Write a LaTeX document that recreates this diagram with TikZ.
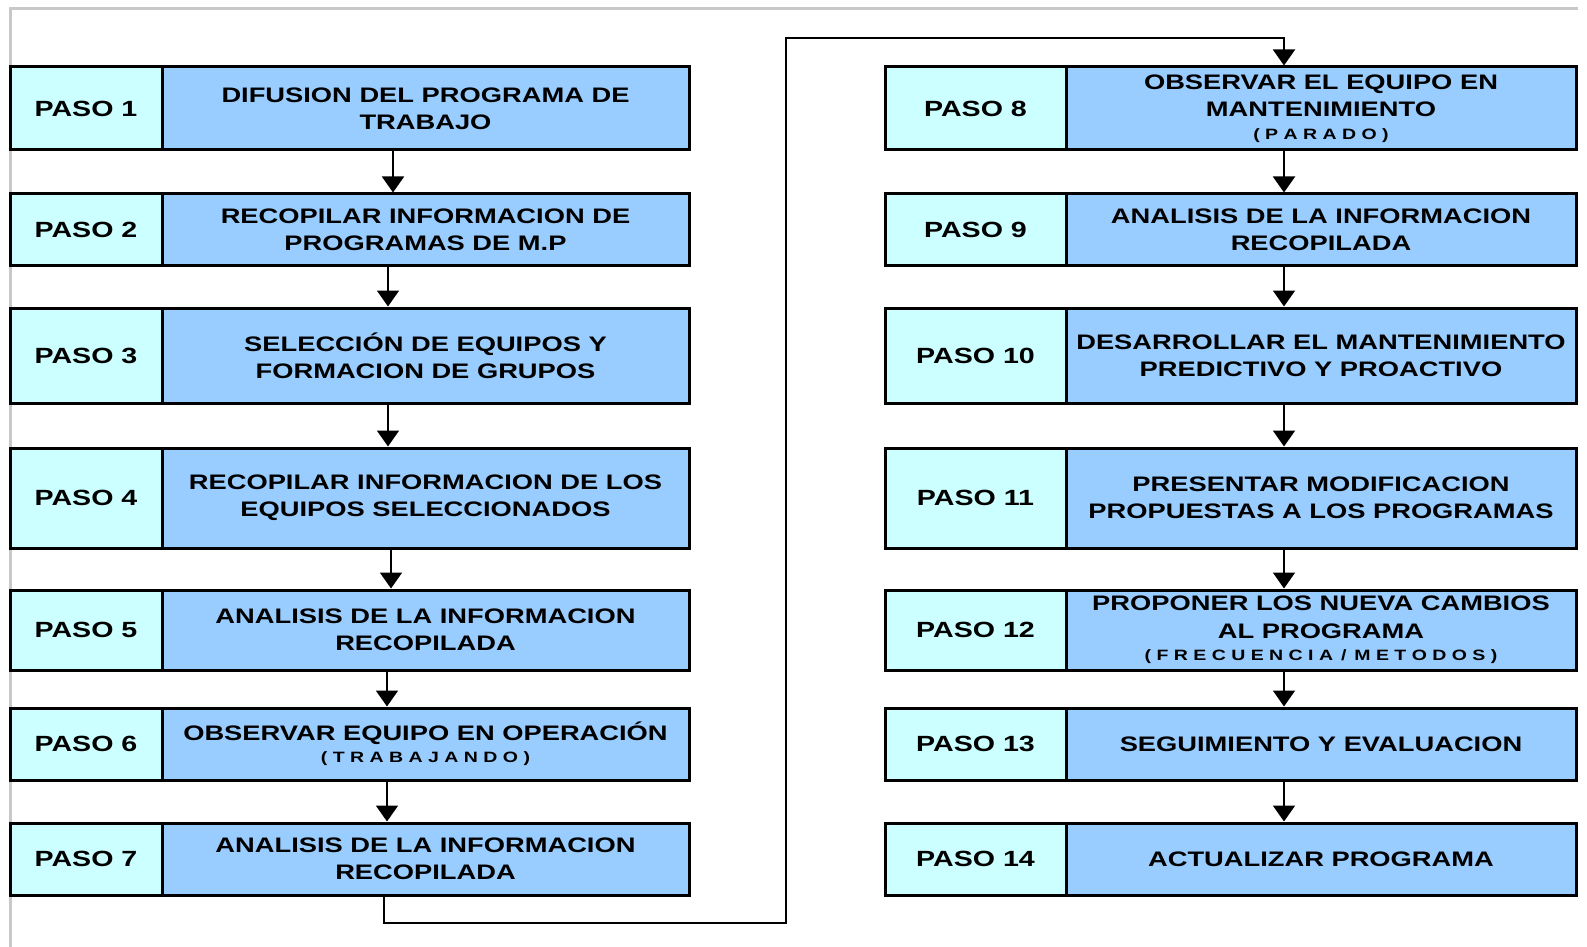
\documentclass[tikz,border=0pt]{standalone}
\usepackage{fontspec}
\usetikzlibrary{arrows.meta}
\newfontfamily\boxfont{Liberation Sans}[FakeStretch=1.3]
\definecolor{pasocol}{HTML}{CCFFFF}
\definecolor{desccol}{HTML}{99CCFF}
\definecolor{framecol}{HTML}{C8C8C8}
\newcommand{\sub}[1]{\fontsize{7.5}{9}\selectfont #1}
\begin{document}
\begin{tikzpicture}[x=0.5pt,y=-0.5pt,
  box/.style={draw=black, line width=1.5pt, rectangle, inner sep=0pt, align=center,
    font=\boxfont\bfseries\fontsize{10.5}{13.65}\selectfont},
  pasoL/.style={box, fill=pasocol, minimum width=76pt, font=\boxfont\bfseries\fontsize{11}{13.65}\selectfont},
  descL/.style={box, fill=desccol, minimum width=263.5pt},
  pasoR/.style={box, fill=pasocol, minimum width=90.5pt, font=\boxfont\bfseries\fontsize{11}{13.65}\selectfont},
  descR/.style={box, fill=desccol, minimum width=255pt},
  arr/.style={draw=black, line width=1pt, -{Triangle[width=11pt,length=8pt]}},
  frameline/.style={draw=framecol, line width=1.5pt}
]
\useasboundingbox (0,0) rectangle (1587,947);
\draw[frameline] (10,947) -- (10,9) -- (1578,9);

% left column
\node[pasoL, minimum height=41.5pt] (p1) at (86,108.5) {PASO 1};
\node[descL, minimum height=41.5pt] (d1) at (425.5,108.5) {DIFUSION DEL PROGRAMA DE\\TRABAJO};
\node[pasoL, minimum height=36pt] (p2) at (86,230) {PASO 2};
\node[descL, minimum height=36pt] (d2) at (425.5,230) {RECOPILAR INFORMACION DE\\PROGRAMAS DE M.P};
\node[pasoL, minimum height=47.5pt] (p3) at (86,355.5) {PASO 3};
\node[descL, minimum height=47.5pt] (d3) at (425.5,355.5) {SELECCIÓN DE EQUIPOS Y\\FORMACION DE GRUPOS};
\node[pasoL, minimum height=50pt] (p4) at (86,498) {PASO 4};
\node[descL, minimum height=50pt] (d4) at (425.5,498) {RECOPILAR INFORMACION DE LOS\\EQUIPOS SELECCIONADOS};
\node[pasoL, minimum height=40pt] (p5) at (86,630) {PASO 5};
\node[descL, minimum height=40pt] (d5) at (425.5,630) {ANALISIS DE LA INFORMACION\\RECOPILADA};
\node[pasoL, minimum height=36pt] (p6) at (86,744) {PASO 6};
\node[descL, minimum height=36pt] (d6) at (425.5,744) {OBSERVAR EQUIPO EN OPERACIÓN\\[-2.45pt]\sub{( T R A B A J A N D O )}};
\node[pasoL, minimum height=36pt] (p7) at (86,859) {PASO 7};
\node[descL, minimum height=36pt] (d7) at (425.5,859) {ANALISIS DE LA INFORMACION\\RECOPILADA};

% right column
\node[pasoR, minimum height=41.5pt] (p8) at (975.5,108.5) {PASO 8};
\node[descR, minimum height=41.5pt] (d8) at (1321,108.5) {OBSERVAR EL EQUIPO EN\\MANTENIMIENTO\\[-2.45pt]\sub{( P A R A D O )}};
\node[pasoR, minimum height=36pt] (p9) at (975.5,230) {PASO 9};
\node[descR, minimum height=36pt] (d9) at (1321,230) {ANALISIS DE LA INFORMACION\\RECOPILADA};
\node[pasoR, minimum height=47.5pt] (p10) at (975.5,355.5) {PASO 10};
\node[descR, minimum height=47.5pt] (d10) at (1321,355.5) {DESARROLLAR EL MANTENIMIENTO\\PREDICTIVO Y PROACTIVO};
\node[pasoR, minimum height=50pt] (p11) at (975.5,498) {PASO 11};
\node[descR, minimum height=50pt] (d11) at (1321,498) {PRESENTAR MODIFICACION\\PROPUESTAS A LOS PROGRAMAS};
\node[pasoR, minimum height=40pt] (p12) at (975.5,630) {PASO 12};
\node[descR, minimum height=40pt] (d12) at (1321,630) {PROPONER LOS NUEVA CAMBIOS\\AL PROGRAMA\\[-2.45pt]\sub{( F R E C U E N C I A \,/\, M E T O D O S )}};
\node[pasoR, minimum height=36pt] (p13) at (975.5,744) {PASO 13};
\node[descR, minimum height=36pt] (d13) at (1321,744) {SEGUIMIENTO Y EVALUACION};
\node[pasoR, minimum height=36pt] (p14) at (975.5,859) {PASO 14};
\node[descR, minimum height=36pt] (d14) at (1321,859) {ACTUALIZAR PROGRAMA};

% arrows left
\draw[arr] ([shift={(-32.5,0)}]d1.south) -- ([shift={(-32.5,0)}]d2.north);
\draw[arr] ([shift={(-37.5,0)}]d2.south) -- ([shift={(-37.5,0)}]d3.north);
\draw[arr] ([shift={(-37.5,0)}]d3.south) -- ([shift={(-37.5,0)}]d4.north);
\draw[arr] ([shift={(-34.5,0)}]d4.south) -- ([shift={(-34.5,0)}]d5.north);
\draw[arr] ([shift={(-38.5,0)}]d5.south) -- ([shift={(-38.5,0)}]d6.north);
\draw[arr] ([shift={(-38.5,0)}]d6.south) -- ([shift={(-38.5,0)}]d7.north);

% connector 7 -> 8
\coordinate (cA) at (786,923);
\coordinate (cB) at (1284,38.5);
\draw[arr] ([shift={(-41.5,0)}]d7.south) |- (cA) |- (cB) -- ([shift={(-37,0)}]d8.north);

% arrows right
\draw[arr] ([shift={(-37,0)}]d8.south) -- ([shift={(-37,0)}]d9.north);
\draw[arr] ([shift={(-37,0)}]d9.south) -- ([shift={(-37,0)}]d10.north);
\draw[arr] ([shift={(-37,0)}]d10.south) -- ([shift={(-37,0)}]d11.north);
\draw[arr] ([shift={(-37,0)}]d11.south) -- ([shift={(-37,0)}]d12.north);
\draw[arr] ([shift={(-37,0)}]d12.south) -- ([shift={(-37,0)}]d13.north);
\draw[arr] ([shift={(-37,0)}]d13.south) -- ([shift={(-37,0)}]d14.north);
\end{tikzpicture}
\end{document}
